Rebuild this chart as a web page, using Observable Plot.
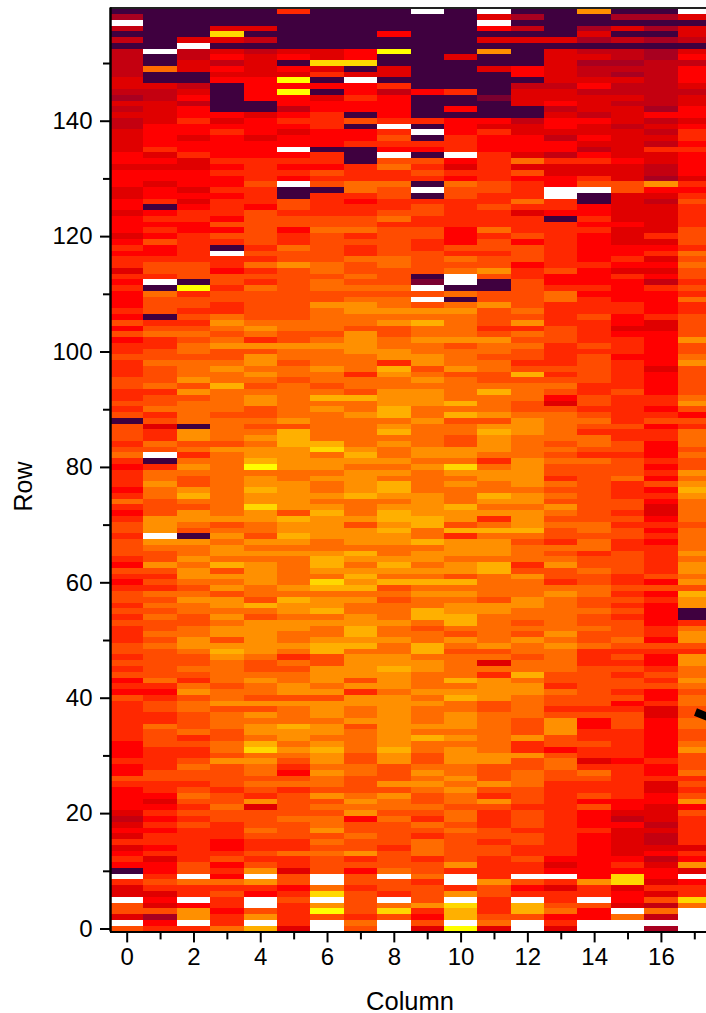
<!DOCTYPE html>
<html>
<head>
<meta charset="utf-8">
<script src="https://cdn.jsdelivr.net/npm/d3@7"></script>
<script src="https://cdn.jsdelivr.net/npm/@observablehq/plot@0.6"></script>
<style>html,body{margin:0;padding:0;background:#fff;overflow:hidden}svg{display:block}</style>
</head>
<body>
<div id="chart"></div>
<script>
// Each column: codes from the top row (159) down to row 0.
const col00 = "02d3030 33333 44 3 2 4 3 4 33 4444 55 4555 4455 4555 4565 6646 5655 5657 5756 6 7666 7766 7670 7776 7865 6665 6865 6776 777 6576 5677 6767 6667 7676 7565 7666 6666 5 5565 5765 5554 3454 6456 50d6 44d7 74d7";
const col01 = "000 0000 d008 0043 3444 4555 5645 4554 5560 5656 5755 6776 d087 7706 7866 7 7877 7867 7867 4668 7d06 8898 8777 999d 987 7976 7687 8787 7878 7777 7865 6776 6877 7 6666 7766 5456 5656 6564 5567 6454 7256";
const col02 = "000 004d 3344 0034 5355 6554 5564 4555 4545 6655 6666 6777 0c67 7676 7878 8 7888 9797 8888 0997 8689 8779 a879 9870 988 9899 8789 8877 8899 8778 7689 7887 7786 7 6678 7767 8767 6766 6666 77d8 66d5 99d6";
const col03 = "000 4b40 4535 4500 0005 4565 5556 5655 6566 6575 760d 6657 7677 6689 8789 7 7898 8a88 8878 8887 9888 8888 8888 9789 899 8a79 8979 9898 9979 a988 8878 8978 8877 8 8797 7776 7787 7666 5567 5658 6766 5668";
const col04 = "000 4030 3444 4555 5004 5554 5556 6667 6665 7777 7767 6867 6877 7778 9869 7 9989 8789 9778 7898 99ac 899a 99b9 9887 989 8999 9887 a879 9999 9877 8988 7979 8998 a b898 8787 6947 7787 6676 79d9 65dd 79da";
const col05 = "600 0000 4505 4c5c 5535 6545 5d56 565d 0077 6775 6687 7977 7777 7778 8779 8 8788 7888 8889 7aaa 9999 8899 9997 a99a 989 8888 898a 9989 9889 8687 8899 7988 8a99 8 9876 5786 7777 8777 6686 6477 5676 6664";
const col06 = "000 0000 44b4 6050 4556 6655 5066 5767 0666 6778 7777 7887 8877 9888 8789 8 8898 878a 8988 888a b899 8988 989a 9999 889 aa98 ba89 9a89 889a a779 9989 7999 8998 9 a998 9887 9787 8897 8787 77dd 8bd9 c7dd";
const col07 = "000 0000 55b0 4d55 6550 7055 6000 6668 8656 6778 6766 8778 7878 9988 7999 9 8886 887a 8898 8888 9a98 9999 a888 9799 98a 989a 9a89 8899 aa9a 8999 9796 9988 9788 8 8778 8777 8989 5778 7796 7577 6777 7687";
const col08 = "000 0500 c004 4063 5555 6d67 65d7 8668 7766 7867 7777 8877 7878 8989 7788 9 96a9 8899 9aa8 9a89 8898 98aa 989a a9a9 988 9a98 a787 8889 8898 899a 9998 9999 9999 9 a997 7797 9887 8777 7677 78d7 76d8 b7dd";
const col09 = "d00 0000 0000 0005 0000 60d0 6507 6760 d067 7667 7667 7770 1d7d 798a 8898 8 9978 9899 9889 8888 9989 8888 9999 aa88 a89 9898 a898 8aa8 788a a899 8889 8988 898a 8 8778 9898 7787 6876 8886 7786 7779 6574";
const col10 = "000 0000 0400 0006 0050 5556 66d5 4658 7766 6665 5576 878d d080 8988 8897 8 8897 8888 a8a7 8877 998b 9898 88a9 97a6 999 8997 a898 99aa 8798 7888 8a89 a889 9989 8 9998 8989 8878 8787 7777 96dd 69db aadc";
const col11 = "d4d 5040 9004 0000 1000 5465 5566 6667 7667 6668 6776 7797 0077 9777 6798 8 7887 78a8 8897 9a99 9868 9988 a989 68a8 999 8aa8 8887 9988 8889 7848 6999 9778 8888 8 8997 7797 6976 6677 6776 6669 7766 6784";
const col12 = "020 3040 0005 5034 4400 3445 5548 4756 6686 4666 7577 7566 7777 7879 6878 7 767a 7888 7789 9988 8899 9998 9989 99a8 788 8679 8889 9887 8798 8788 a899 8888 7779 6 6977 8887 7767 7767 7667 66d7 56da a7dd";
const col13 = "000 0040 4444 4434 4534 5543 5536 4455 dd66 5066 6666 6675 5688 6666 7776 6 6676 7875 4788 8887 8787 7687 8798 7877 687 8977 6898 8888 8989 8888 7768 7767 9997 7 5788 7766 6666 6666 6665 45d6 4667 8564";
const col14 = "900 2420 3423 3453 4443 5445 4356 4467 d005 5656 5555 5655 5656 6676 6667 6 7777 7667 7678 7688 7687 7777 7777 7887 886 7787 7887 7877 8778 6667 7777 7767 5566 7 6646 8766 7575 5565 5555 5559 66d7 55dd";
const col15 = "020 4030 3323 2433 4344 4344 4445 4447 7444 4454 4455 6546 5555 6655 4566 6 5666 6676 6666 7667 7677 7866 6776 7677 667 7776 6767 6767 7787 6767 6776 7567 7766 6 6656 6666 6554 3544 4445 65bb 4554 d8dd";
const col16 = "020 2020 2233 3333 3325 3434 3644 3329 5434 4444 6456 4545 3655 5564 4555 5 5545 5556 6567 5665 5565 6575 6544 5656 566 6667 5756 5555 6657 6556 7675 5644 5555 5 5565 5644 5544 4343 3453 4554 6473 83d2";
const col17 = "d40 4430 4535 5543 4455 4566 5655 5546 5676 6667 7768 7877 6768 6677 7797 7 8977 7778 9757 6888 7877 989a 9888 8788 889 8998 97a9 9006 8997 6998 8987 8877 8877 8 9777 8676 7957 6666 6465 94d5 66b8 dddd";
const columns = [col00,col01,col02,col03,col04,col05,col06,col07,col08,col09,col10,col11,col12,col13,col14,col15,col16,col17];

const codes = ["0","1","2","3","4","5","6","7","8","9","a","b","c","d"];
const palette = ["#3f003f","#7a0030","#a80020","#c40010","#e00000","#ff0000","#ff2800","#ff4c00","#ff6c00","#ff9000","#ffb000","#ffd800","#ffff00","#ffffff"];

const xTicksMajor = [0,2,4,6,8,10,12,14,16];
const xTicksMinor = [1,3,5,7,9,11,13,15,17];
const yTicksMajor = [0,20,40,60,80,100,120,140];
const yTicksMinor = [10,30,50,70,90,110,130,150];

// The short black stroke at the right edge of the picture.
const stubX = [17.02, 17.5];
const stubY = [37.6, 36.5];
const stub = stubX.map((x, i) => ({x, y: stubY[i]}));

const cells = [];
columns.forEach((s, c) => {
  const chars = s.replace(/\s/g, "");
  for (let i = 0; i < 160 && i < chars.length; i++) {
    const row = 159 - i;
    cells.push({x1: c - 0.5, x2: c + 0.5, y1: row - 0.5, y2: row + 0.5, v: chars[i]});
  }
});

const font = "Liberation Sans, Arial, sans-serif";
const plot = Plot.plot({
  width: 706,
  height: 1013,
  marginLeft: 0, marginRight: 0, marginTop: 0, marginBottom: 0,
  style: {background: "#fff", fontFamily: font, overflow: "hidden"},
  x: {domain: [-0.5, 17.5], range: [110, 711], axis: null},
  y: {domain: [-0.5, 159.5], range: [931.4, 8.2], axis: null},
  color: {type: "ordinal", domain: codes, range: palette},
  marks: [
    Plot.rect(cells, {x1: "x1", x2: "x2", y1: "y1", y2: "y2", fill: "v", shapeRendering: "crispEdges"}),
    Plot.line(stub, {x: "x", y: "y", stroke: "#000", strokeWidth: 8, strokeLinecap: "butt"}),
    Plot.ruleY([159.6], {x1: -0.5, x2: 17.5, stroke: "#222", strokeWidth: 2}),
    Plot.ruleY([-0.5], {x1: -0.5, x2: 17.5, stroke: "#000", strokeWidth: 2}),
    Plot.ruleX([-0.5], {y1: -0.5, y2: 159.6, stroke: "#000", strokeWidth: 2.5}),
    Plot.axisX({ticks: xTicksMajor, anchor: "bottom", y: -0.5, tickSize: 11, tickPadding: 5, strokeWidth: 2, stroke: "#000", fontSize: 24, tickFormat: d => d, label: null, labelArrow: "none"}),
    Plot.axisX({ticks: xTicksMinor, anchor: "bottom", y: -0.5, tickSize: 8, strokeWidth: 2, stroke: "#000", tickFormat: () => "", label: null}),
    Plot.axisY({ticks: yTicksMajor, anchor: "left", x: -0.5, tickSize: 10, tickPadding: 8, strokeWidth: 2, stroke: "#000", fontSize: 24, tickFormat: d => d, label: null}),
    Plot.axisY({ticks: yTicksMinor, anchor: "left", x: -0.5, tickSize: 7, strokeWidth: 2, stroke: "#000", tickFormat: () => "", label: null}),
    Plot.text(["Column"], {x: () => 8.47, y: () => -12.65, text: d => d, fontSize: 25.5, fill: "#000", textAnchor: "middle", lineAnchor: "middle"}),
    Plot.text(["Row"], {x: () => -3.09, y: () => 76.7, text: d => d, fontSize: 25, fill: "#000", rotate: -90, textAnchor: "middle", lineAnchor: "middle"})
  ]
});
document.getElementById("chart").appendChild(plot);
</script>
</body>
</html>
